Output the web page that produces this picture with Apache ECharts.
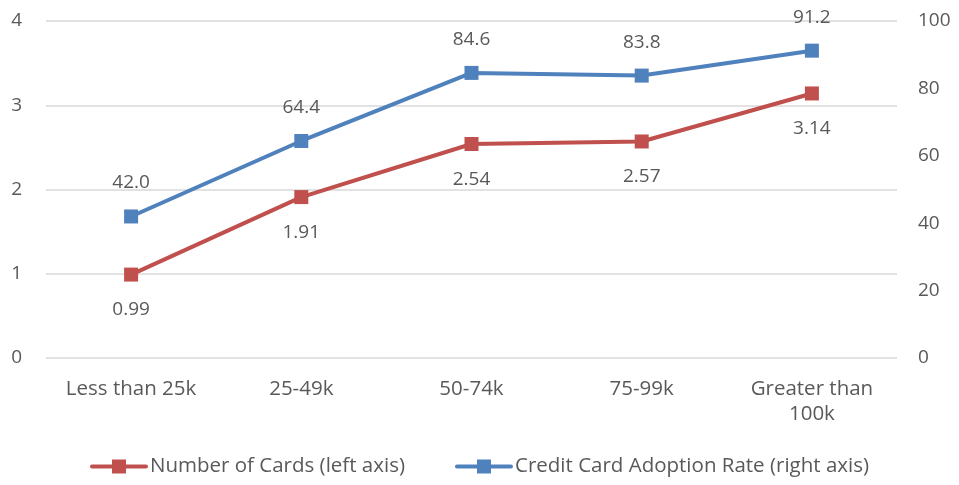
<!DOCTYPE html>
<html>
<head>
<meta charset="utf-8">
<script src="https://cdn.jsdelivr.net/npm/echarts@6/dist/echarts.min.js"></script>
<style>
  html, body { margin: 0; padding: 0; background: #fff; }
  #chart { width: 959px; height: 485px; }
</style>
</head>
<body>
<div id="chart"></div>
<script>
// Income brackets and the two measures plotted against them
const categories = ['Less than 25k', '25-49k', '50-74k', '75-99k', 'Greater than\n100k'];
const numberOfCards = [0.99, 1.91, 2.54, 2.57, 3.14];
const adoptionRate = [42.0, 64.4, 84.6, 83.8, 91.2];
const leftTicks = [0, 1, 2, 3, 4];
const rightTicks = [0, 20, 40, 60, 80, 100];

const FONT = '"Open Sans", "Noto Sans", sans-serif';
const TEXT = '#595959';
const RED = '#C0504D';
const BLUE = '#4F81BD';
const FS = 19;     // numbers
const FS_TXT = 20.5; // words

// legend key: thick line with a square marker in the middle
const KEY_ICON = 'path://M2,5L22,5L22,0L36,0L36,5L56,5Q58,5 58,7Q58,9 56,9L36,9L36,14L22,14L22,9L2,9Q0,9 0,7Q0,5 2,5Z';

const chart = echarts.init(document.getElementById('chart'));
chart.setOption({
  animation: false,
  textStyle: { fontFamily: FONT },
  grid: { left: 46, right: 62, top: 21, bottom: 127 },
  legend: {
    bottom: 3,
    left: 'center',
    itemWidth: 58,
    itemHeight: 14,
    itemGap: 50,
    textStyle: { color: TEXT, fontSize: FS_TXT, fontFamily: FONT, padding: [0, 0, 0, -3] },
    data: [
      { name: 'Number of Cards (left axis)', icon: KEY_ICON, itemStyle: { color: RED } },
      { name: 'Credit Card Adoption Rate (right axis)', icon: KEY_ICON, itemStyle: { color: BLUE } }
    ]
  },
  xAxis: {
    type: 'category',
    data: categories,
    axisLine: { show: false },
    axisTick: { show: false },
    axisLabel: { color: TEXT, fontSize: FS_TXT, margin: 19, lineHeight: 25, interval: 0 }
  },
  yAxis: [
    {
      type: 'value',
      min: leftTicks[0],
      max: leftTicks[leftTicks.length - 1],
      interval: 1,
      axisLine: { show: false },
      axisTick: { show: false },
      axisLabel: { color: TEXT, fontSize: FS, margin: 24, formatter: v => String(v) },
      splitLine: { lineStyle: { color: '#D9D9D9', width: 1.5 } }
    },
    {
      type: 'value',
      min: rightTicks[0],
      max: rightTicks[rightTicks.length - 1],
      interval: 20,
      position: 'right',
      axisLine: { show: false },
      axisTick: { show: false },
      axisLabel: { color: TEXT, fontSize: FS, margin: 21 },
      splitLine: { show: false }
    }
  ],
  series: [
    {
      name: 'Number of Cards (left axis)',
      type: 'line',
      yAxisIndex: 0,
      data: numberOfCards,
      symbol: 'rect',
      symbolSize: 14,
      lineStyle: { color: RED, width: 4, cap: 'round' },
      itemStyle: { color: RED },
      label: {
        show: true, position: 'bottom', distance: 19,
        color: TEXT, fontSize: FS, fontFamily: FONT,
        formatter: p => p.value.toFixed(2)
      }
    },
    {
      name: 'Credit Card Adoption Rate (right axis)',
      type: 'line',
      yAxisIndex: 1,
      data: adoptionRate,
      symbol: 'rect',
      symbolSize: 14,
      lineStyle: { color: BLUE, width: 4, cap: 'round' },
      itemStyle: { color: BLUE },
      label: {
        show: true, position: 'top', distance: 17,
        color: TEXT, fontSize: FS, fontFamily: FONT,
        formatter: p => p.value.toFixed(1)
      }
    }
  ]
});
</script>
</body>
</html>
